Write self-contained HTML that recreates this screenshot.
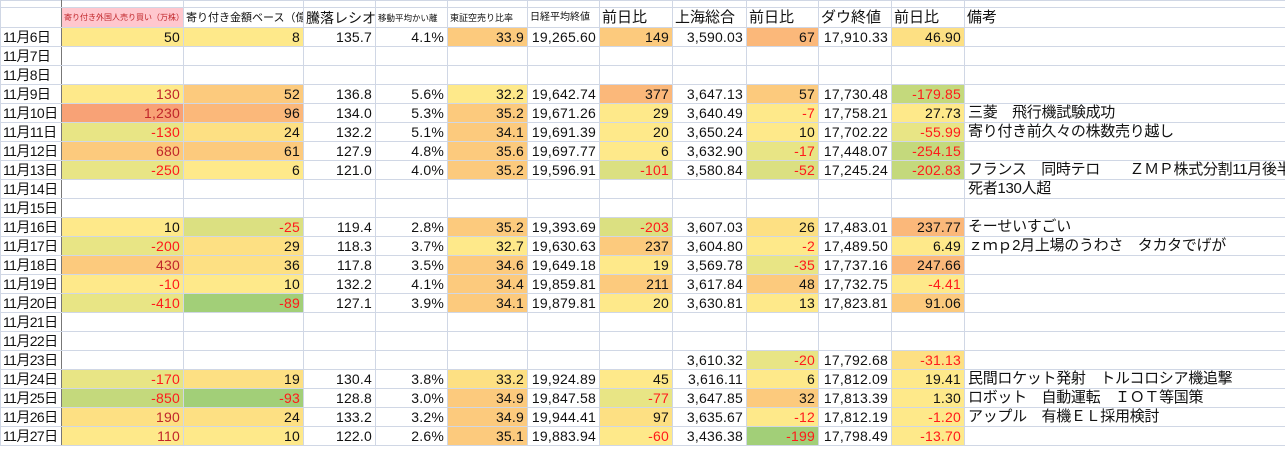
<!DOCTYPE html>
<html><head><meta charset="utf-8">
<style>
html,body{margin:0;padding:0;background:#fff;width:1285px;height:450px;overflow:hidden}
table{border-collapse:collapse;table-layout:fixed;width:1285px;font-family:"Liberation Sans","Noto Sans CJK JP",sans-serif;font-size:14px;color:#111}
td{border:1px solid #d0d7e5;padding:0 3px 0 2px;white-space:nowrap;overflow:visible;text-align:right;height:18px;line-height:18px;letter-spacing:0.2px}
td.d{text-align:left;font-size:14px;border-right:1px solid #777;padding-left:2px;letter-spacing:-0.6px}
td.m{text-align:left;font-size:15px;padding-left:3px;letter-spacing:-0.3px}
tr.h td{text-align:left;height:19px;font-size:15px;overflow:hidden;letter-spacing:0}
tr.h td.s{font-size:9px}
tr.top td{height:6px;line-height:6px}
.r{color:#ff1a1a}.dr{color:#c0262a}
</style></head><body>
<table id="t">
<colgroup><col style="width:61px"><col style="width:122px"><col style="width:120px"><col style="width:72px"><col style="width:72px"><col style="width:80px"><col style="width:72px"><col style="width:73px"><col style="width:74px"><col style="width:72px"><col style="width:73px"><col style="width:73px"><col style="width:321px"></colgroup>
<tr class="top"><td class="d"></td><td></td><td></td><td></td><td></td><td></td><td></td><td></td><td></td><td></td><td></td><td></td><td></td></tr>
<tr class="h"><td class="d"></td><td class="s" style="background:#ffc7ce;color:#c0262a;font-size:8px">寄り付き外国人売り買い（万株）</td><td class="s" style="font-size:11px">寄り付き金額ベース（億）</td><td style="font-size:14px">騰落レシオ</td><td class="s" style="font-size:8.5px">移動平均かい離</td><td class="s">東証空売り比率</td><td class="s" style="font-size:10px">日経平均終値</td><td>前日比</td><td>上海総合</td><td>前日比</td><td>ダウ終値</td><td>前日比</td><td>備考</td></tr>
</table>
<script>
var C={Y:"#fee98a",Y2:"#fde083",O:"#fcca7d",O2:"#fbb87a",R:"#f8a276",G1:"#e8e585",G2:"#dbe081",G3:"#c4d97c",G4:"#a2cf78","":""};
var rows=[
["11月6日",["50","Y","k"],["8","Y"],"135.7","4.1%",["33.9","O"],"19,265.60",["149","O"],"3,590.03",["67","O2"],"17,910.33",["46.90","Y2"],""],
["11月7日"],["11月8日"],
["11月9日",["130","Y","dr"],["52","O"],"136.8","5.6%",["32.2","Y"],"19,642.74",["377","O2"],"3,647.13",["57","O"],"17,730.48",["-179.85","G3"],""],
["11月10日",["1,230","R","dr"],["96","O2"],"134.0","5.3%",["35.2","O"],"19,671.26",["29","Y"],"3,640.49",["-7","Y"],"17,758.21",["27.73","Y"],"三菱　飛行機試験成功"],
["11月11日",["-130","G1"],["24","Y2"],"132.2","5.1%",["34.1","O"],"19,691.39",["20","Y"],"3,650.24",["10","Y"],"17,702.22",["-55.99","G1"],"寄り付き前久々の株数売り越し"],
["11月12日",["680","O","dr"],["61","O"],"127.9","4.8%",["35.6","O"],"19,697.77",["6","Y"],"3,632.90",["-17","G1"],"17,448.07",["-254.15","G3"],""],
["11月13日",["-250","G1"],["6","Y"],"121.0","4.0%",["35.2","O"],"19,596.91",["-101","G2"],"3,580.84",["-52","G2"],"17,245.24",["-202.83","G3"],"フランス　同時テロ　　ＺＭＰ株式分割11月後半"],
["11月14日",,,,,,,,,,,,"死者130人超"],["11月15日"],
["11月16日",["10","Y","k"],["-25","G2"],"119.4","2.8%",["35.2","O"],"19,393.69",["-203","G2"],"3,607.03",["26","Y2"],"17,483.01",["237.77","O2"],"そーせいすごい"],
["11月17日",["-200","G1"],["29","Y2"],"118.3","3.7%",["32.7","Y"],"19,630.63",["237","O"],"3,604.80",["-2","Y"],"17,489.50",["6.49","Y"],"ｚｍｐ2月上場のうわさ　タカタでげが"],
["11月18日",["430","O","dr"],["36","Y2"],"117.8","3.5%",["34.6","O"],"19,649.18",["19","Y"],"3,569.78",["-35","G1"],"17,737.16",["247.66","O2"],""],
["11月19日",["-10","Y"],["10","Y"],"132.2","4.1%",["34.4","O"],"19,859.81",["211","O"],"3,617.84",["48","O"],"17,732.75",["-4.41","Y"],""],
["11月20日",["-410","G1"],["-89","G4"],"127.1","3.9%",["34.1","O"],"19,879.81",["20","Y"],"3,630.81",["13","Y"],"17,823.81",["91.06","O"],""],
["11月21日"],["11月22日"],
["11月23日",,,,,,,,"3,610.32",["-20","G1"],"17,792.68",["-31.13","Y2"],""],
["11月24日",["-170","G1"],["19","Y2"],"130.4","3.8%",["33.2","Y2"],"19,924.89",["45","Y"],"3,616.11",["6","Y"],"17,812.09",["19.41","Y"],"民間ロケット発射　トルコロシア機追撃"],
["11月25日",["-850","G3"],["-93","G4"],"128.8","3.0%",["34.9","O"],"19,847.58",["-77","G1"],"3,647.85",["32","O"],"17,813.39",["1.30","Y"],"ロボット　自動運転　ＩＯＴ等国策"],
["11月26日",["190","Y2","dr"],["24","Y2"],"133.2","3.2%",["34.9","O"],"19,944.41",["97","Y2"],"3,635.67",["-12","Y"],"17,812.19",["-1.20","Y"],"アップル　有機ＥＬ採用検討"],
["11月27日",["110","Y","dr"],["10","Y"],"122.0","2.6%",["35.1","O"],"19,883.94",["-60","Y"],"3,436.38",["-199","G4"],"17,798.49",["-13.70","Y"],""]
];
var t=document.getElementById("t"),h="";
rows.forEach(function(r){
 h+="<tr><td class='d'>"+r[0]+"</td>";
 for(var i=1;i<13;i++){
  var v=r[i];
  if(i==12){h+="<td class='m'>"+(v||"")+"</td>";continue;}
  if(v==null){h+="<td></td>";continue;}
  if(typeof v=="string"){h+="<td>"+v+"</td>";continue;}
  var cls=v[2]||(v[0].charAt(0)=="-"?"r":"");
  h+="<td class='"+cls+"' style='background:"+C[v[1]]+"'>"+v[0]+"</td>";
 }
 h+="</tr>";
});
t.insertAdjacentHTML("beforeend",h);
</script>
</body></html>
